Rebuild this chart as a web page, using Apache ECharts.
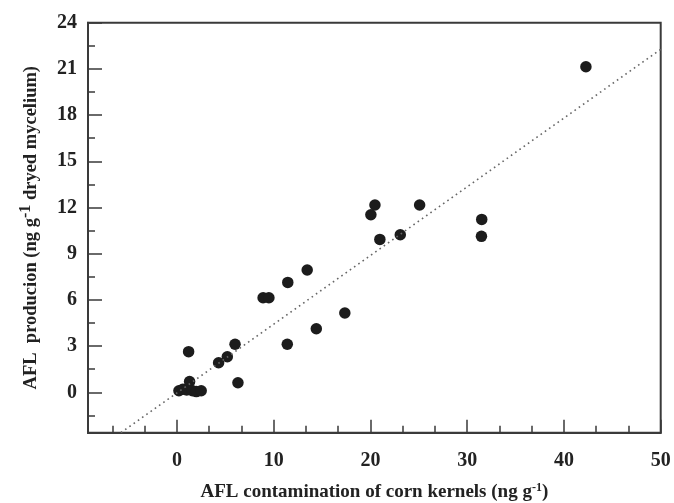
<!DOCTYPE html>
<html>
<head>
<meta charset="utf-8">
<script src="https://cdn.jsdelivr.net/npm/echarts@6/dist/echarts.min.js"></script>
<style>html,body{margin:0;padding:0;background:#fff}#c{width:674px;height:503px}</style>
</head>
<body>
<div id="c"></div>
<script>
// Data
const contamination = [0.2, 0.6, 1.0, 1.3, 1.6, 2.0, 2.5, 1.2, 4.3, 5.2, 6.0, 6.3, 8.9, 9.5, 11.4, 11.45, 13.46, 14.4, 17.35, 20.04, 20.46, 20.97, 23.08, 25.08, 31.47, 31.5, 42.27];
const production    = [0.1, 0.2, 0.15, 0.7, 0.1, 0.05, 0.1, 2.64, 1.92, 2.31, 3.12, 0.62, 6.14, 6.14, 3.12, 7.14, 7.94, 4.13, 5.15, 11.53, 12.16, 9.93, 10.23, 12.16, 10.13, 11.23, 21.14];
const fitX = [-5.8, 50];
const fitY = [-2.62, 22.27];
const xMajorTicks = [0, 10, 20, 30, 40, 50];
const xMinorTicks = [-6.667, -3.333, 3.333, 6.667, 13.333, 16.667, 23.333, 26.667, 33.333, 36.667, 43.333, 46.667];
const yMajorTicks = [0, 3, 6, 9, 12, 15, 18, 21, 24];
const yMinorTicks = [-1.5, 1.5, 4.5, 7.5, 10.5, 13.5, 16.5, 19.5, 22.5];
const X_MIN = -9.2, X_MAX = 50, Y_MIN = -2.62, Y_MAX = 24;

const axisColor = '#3a3a3a';
const textColor = '#222';
const font = '"Liberation Serif", "DejaVu Serif", serif';

const chart = echarts.init(document.getElementById('c'), null, {renderer: 'canvas'});
const scatterData = contamination.map((x, i) => [x, production[i]]);
const fitData = fitX.map((x, i) => [x, fitY[i]]);

const option = {
  animation: false,
  backgroundColor: '#fff',
  grid: {left: 88, right: 13.3, top: 22.7, bottom: 70.3, containLabel: false, outerBoundsMode: 'none',
         show: true, borderColor: axisColor, borderWidth: 2, backgroundColor: 'transparent'},
  xAxis: [
    {
      type: 'value', min: X_MIN, max: X_MAX, position: 'bottom',
      splitLine: {show: false},
      axisLine: {show: true, onZero: false, lineStyle: {color: axisColor, width: 2}},
      axisTick: {show: true, inside: true, length: 13, customValues: xMajorTicks, lineStyle: {color: axisColor, width: 1.5}},
      axisLabel: {show: true, customValues: xMajorTicks, margin: 18, color: textColor, fontFamily: font, fontWeight: 'bold', fontSize: 20},
      name: '{n|AFL contamination of corn kernels (ng g}{s|-1}{n|)}',
      nameLocation: 'middle', nameGap: 49,
      nameTextStyle: {rich: {
        n: {fontFamily: font, fontWeight: 'bold', fontSize: 19, color: textColor},
        s: {fontFamily: font, fontWeight: 'bold', fontSize: 12, color: textColor, verticalAlign: 'top', padding: [0, 0, 8, 0]}
      }}
    },
    {
      type: 'value', min: X_MIN, max: X_MAX, position: 'bottom', gridIndex: 0,
      splitLine: {show: false},
      axisLine: {show: false, onZero: false},
      axisTick: {show: true, inside: true, length: 7, customValues: xMinorTicks, lineStyle: {color: axisColor, width: 1.5}},
      axisLabel: {show: false}
    }
  ],
  yAxis: [
    {
      type: 'value', min: Y_MIN, max: Y_MAX, position: 'left',
      splitLine: {show: false},
      axisLine: {show: true, onZero: false, lineStyle: {color: axisColor, width: 2}},
      axisTick: {show: true, inside: true, length: 14, customValues: yMajorTicks, lineStyle: {color: axisColor, width: 1.5}},
      axisLabel: {show: true, customValues: yMajorTicks, margin: 11, color: textColor, fontFamily: font, fontWeight: 'bold', fontSize: 20},
      name: '{n|AFL  producion (ng g}{s|-1}{n| dryed mycelium)}',
      nameLocation: 'middle', nameGap: 44, nameRotate: 90,
      nameTextStyle: {rich: {
        n: {fontFamily: font, fontWeight: 'bold', fontSize: 18.5, color: textColor},
        s: {fontFamily: font, fontWeight: 'bold', fontSize: 16, color: textColor, verticalAlign: 'top', padding: [0, 0, 10, 0]}
      }}
    },
    {
      type: 'value', min: Y_MIN, max: Y_MAX, position: 'left', gridIndex: 0,
      splitLine: {show: false},
      axisLine: {show: false, onZero: false},
      axisTick: {show: true, inside: true, length: 7, customValues: yMinorTicks, lineStyle: {color: axisColor, width: 1.5}},
      axisLabel: {show: false}
    }
  ],
  series: [
    {
      type: 'line', data: fitData, xAxisIndex: 0, yAxisIndex: 0,
      showSymbol: false, symbol: 'none', silent: true,
      lineStyle: {color: '#666', width: 1.6, type: [1.6, 3.6]}
    },
    {
      type: 'scatter', data: scatterData, xAxisIndex: 0, yAxisIndex: 0,
      symbol: 'circle', symbolSize: 11.5,
      itemStyle: {color: '#1c1c1c', opacity: 1}
    }
  ]
};
chart.setOption(option);
</script>
</body>
</html>
